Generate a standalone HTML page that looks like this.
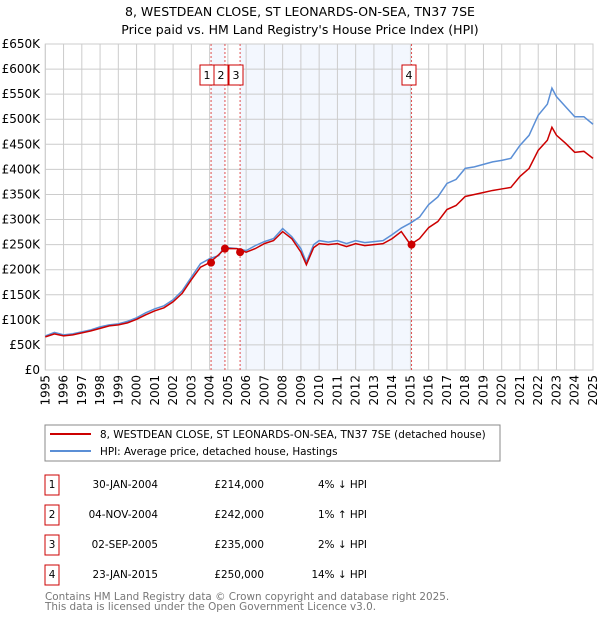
<!DOCTYPE html>
<html><head><meta charset="utf-8"><style>
body{margin:0;background:#fff;}
svg{display:block;font-family:"DejaVu Sans","Liberation Sans",sans-serif;}
</style></head><body>
<svg id="c" width="600" height="620">
<text x="300" y="16" text-anchor="middle" font-size="12.5">8, WESTDEAN CLOSE, ST LEONARDS-ON-SEA, TN37 7SE</text>
<text x="300" y="34" text-anchor="middle" font-size="12.5">Price paid vs. HM Land Registry's House Price Index (HPI)</text>
<g id="plot"></g>
<rect x="45" y="425" width="455" height="36" fill="#fff" stroke="#888"/>
<line x1="50" y1="434" x2="91" y2="434" stroke="#cc0000" stroke-width="2"/>
<text x="100" y="438" font-size="10.4">8, WESTDEAN CLOSE, ST LEONARDS-ON-SEA, TN37 7SE (detached house)</text>
<line x1="50" y1="451" x2="91" y2="451" stroke="#5b8fd6" stroke-width="2"/>
<text x="100" y="455" font-size="10.4">HPI: Average price, detached house, Hastings</text>
<g id="table" font-size="10.4"></g>
<text x="45" y="600" font-size="10.4" fill="#777">Contains HM Land Registry data © Crown copyright and database right 2025.</text>
<text x="45" y="610" font-size="10.4" fill="#777">This data is licensed under the Open Government Licence v3.0.</text>
</svg>
<script>
const hpiDates=[1995.0,1995.5,1996.0,1996.5,1997.0,1997.5,1998.0,1998.5,1999.0,1999.5,2000.0,2000.5,2001.0,2001.5,2002.0,2002.5,2003.0,2003.5,2004.0,2004.5,2004.84,2005.0,2005.5,2006.0,2006.5,2007.0,2007.5,2008.0,2008.5,2009.0,2009.3,2009.7,2010.0,2010.5,2011.0,2011.5,2012.0,2012.5,2013.0,2013.5,2014.0,2014.5,2015.0,2015.5,2016.0,2016.5,2017.0,2017.5,2018.0,2018.5,2019.0,2019.5,2020.0,2020.5,2021.0,2021.5,2022.0,2022.5,2022.75,2023.0,2023.5,2024.0,2024.5,2025.0];
const hpiValues=[68,75,70,72,76,80,86,90,92,97,104,114,122,128,140,158,185,212,222,228,248,244,242,238,248,256,262,282,266,242,215,250,258,255,258,252,258,254,256,258,270,283,293,305,330,345,372,380,402,405,410,415,418,422,448,468,508,530,562,545,525,505,505,490];
const redValues=[66,72,68,70,74,78,83,88,90,94,101,110,118,124,136,153,180,205,214,230,242,242,242,235,242,252,258,276,262,235,210,244,252,250,252,246,252,248,250,252,262,276,250,262,284,296,320,328,346,350,354,358,361,364,386,402,438,458,484,468,452,434,436,422];
const saleLabels=["1","2","3","4"];
const saleDates=[2004.08,2004.84,2005.67,2015.06];
const salePrices=[214,242,235,250];
const saleDateText=["30-JAN-2004","04-NOV-2004","02-SEP-2005","23-JAN-2015"];
const salePriceText=["£214,000","£242,000","£235,000","£250,000"];
const saleHpiText=["4% ↓ HPI","1% ↑ HPI","2% ↓ HPI","14% ↓ HPI"];
const yTicks=[0,50,100,150,200,250,300,350,400,450,500,550,600,650];
const yTickLabels=["£0","£50K","£100K","£150K","£200K","£250K","£300K","£350K","£400K","£450K","£500K","£550K","£600K","£650K"];
const xYears=[1995,1996,1997,1998,1999,2000,2001,2002,2003,2004,2005,2006,2007,2008,2009,2010,2011,2012,2013,2014,2015,2016,2017,2018,2019,2020,2021,2022,2023,2024,2025];

const X0=45.3,X1=593,Y0=370,Y1=44;
const xs=t=>X0+(t-1995)/30*(X1-X0);
const ys=v=>Y0-v/650*(Y0-Y1);
const NS="http://www.w3.org/2000/svg";
const plot=document.getElementById('plot');
function mk(tag,attrs,parent){const e=document.createElementNS(NS,tag);for(const k in attrs)e.setAttribute(k,attrs[k]);(parent||plot).appendChild(e);return e;}

let r=mk('rect',{x:xs(saleDates[0]),y:Y1,width:xs(saleDates[1])-xs(saleDates[0]),height:Y0-Y1,fill:'#eef3fd',opacity:0.7});


r=mk('rect',{x:xs(saleDates[2]),y:Y1,width:xs(saleDates[3])-xs(saleDates[2]),height:Y0-Y1,fill:'#eef3fd',opacity:0.7});



yTicks.forEach((v,i)=>{
  const l=mk('line',{x1:X0,x2:X1,y1:ys(v),y2:ys(v),stroke:'#ccc'});
  
  
  const t=mk('text',{x:40,y:ys(v)+4,'text-anchor':'end','font-size':12});
  t.textContent=yTickLabels[i];
  
  
});
xYears.forEach(y=>{
  const l=mk('line',{x1:xs(y),x2:xs(y),y1:Y1,y2:Y0,stroke:'#ccc'});
  
  
  const t=mk('text',{x:0,y:0,'font-size':12,'text-anchor':'end',transform:`translate(${xs(y)+4},${Y0+5}) rotate(-90)`});
  t.textContent=y;
  
  
});
let ax=mk('rect',{x:X0,y:Y1,width:X1-X0,height:Y0-Y1,fill:'none',stroke:'#ccc'});



saleDates.forEach((d,i)=>{
  const l=mk('line',{x1:xs(d),x2:xs(d),y1:Y1,y2:Y0,stroke:'#e05050','stroke-dasharray':'2,2'});
  
  
});

const hp=mk('polyline',{points:hpiDates.map((d,i)=>xs(d)+','+ys(hpiValues[i])).join(' '),fill:'none',stroke:'#5b8fd6','stroke-width':1.5});


const rp=mk('polyline',{points:hpiDates.map((d,i)=>xs(d)+','+ys(redValues[i])).join(' '),fill:'none',stroke:'#cc0000','stroke-width':1.5});



saleDates.forEach((d,i)=>{
  const c=mk('circle',{cx:xs(d),cy:ys(salePrices[i]),r:4,fill:'#cc0000'});
  
  
  const g=mk('g',{});
  
  
  const bxx=i===0?200:(i===1?214:(i===2?229:402));
  mk('rect',{x:bxx,y:65,width:14,height:20,fill:'#fff',stroke:'#cc0000'},g);
  const t=mk('text',{x:bxx+7,y:79,'text-anchor':'middle','font-size':11},g);
  t.textContent=saleLabels[i];
});

const tb=document.getElementById('table');
saleDates.forEach((d,i)=>{
  const y0=475+i*30;
  const b=mk('rect',{x:45,y:y0,width:14,height:20,fill:'#fff',stroke:'#cc0000'},tb);
  
  
  const n=mk('text',{x:52,y:y0+13,'text-anchor':'middle'},tb);n.textContent=saleLabels[i];
  
  
  const a=mk('text',{x:158,y:y0+13,'text-anchor':'end'},tb);a.textContent=saleDateText[i];
  
  
  const p=mk('text',{x:264,y:y0+13,'text-anchor':'end'},tb);p.textContent=salePriceText[i];
  
  
  const h=mk('text',{x:367,y:y0+13,'text-anchor':'end'},tb);h.textContent=saleHpiText[i];
  
  
});
</script>
</body></html>
